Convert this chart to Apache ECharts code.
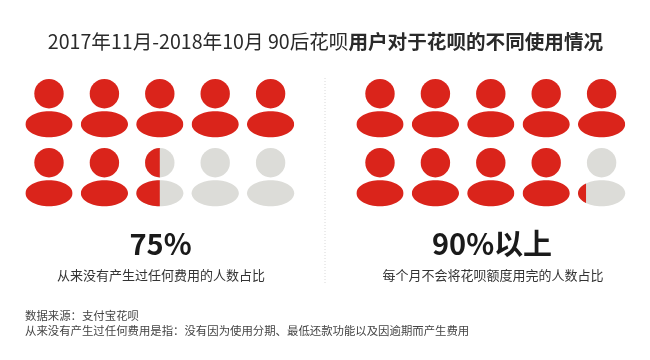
<!DOCTYPE html>
<html><head><meta charset="utf-8">
<style>html,body{margin:0;padding:0;background:#fff}#c{width:650px;height:360px}</style>
<script src="https://cdn.jsdelivr.net/npm/echarts@6/dist/echarts.min.js"></script>
</head><body><div id="c"></div>
<script>
const titleRegular = '2017年11月-2018年10月 90后花呗';
const titleBold = '用户对于花呗的不同使用情况';
const leftShares = [1,1,1,1,1,1,1,0.5,0,0];
const rightShares = [1,1,1,1,1,1,1,1,1,0.17];
const leftValue = '75%';
const rightValue = '90%以上';
const leftCaption = '从来没有产生过任何费用的人数占比';
const rightCaption = '每个月不会将花呗额度用完的人数占比';
const sourceNote = '数据来源：支付宝花呗';
const definitionNote = '从来没有产生过任何费用是指：没有因为使用分期、最低还款功能以及因逾期而产生费用';

const RED = '#DA241B', GREY = '#DCDCD8';
const FONT = '"Noto Sans CJK SC","Noto Sans",sans-serif';
const COLS = 5;
const toCells = shares => shares.map((s,i)=>[i%COLS, Math.floor(i/COLS), s]);

function renderPerson(params, api){
  const c = api.coord([api.value(0), api.value(1)]);
  const share = api.value(2);
  const headR = 14.7, bodyRx = 23.6, bodyRy = 13, bodyDy = 30.6;
  const shapes = color => [
    {type:'circle', shape:{cx:c[0], cy:c[1], r:headR}, style:{fill:color}},
    {type:'ellipse', shape:{cx:c[0], cy:c[1]+bodyDy, rx:bodyRx, ry:bodyRy}, style:{fill:color}}
  ];
  const x0 = c[0]-bodyRx, w = bodyRx*2;
  const children = [];
  if (share < 1) children.push({type:'group', children:shapes(GREY)});
  if (share > 0) children.push({type:'group', children:shapes(RED),
    clipPath:{type:'rect', shape:{x:x0, y:c[1]-headR-1, width:w*share, height:headR+bodyDy+bodyRy+2}}});
  return {type:'group', children};
}
const personSeries = (data, idx) => ({
  type:'custom', coordinateSystem:'cartesian2d', xAxisIndex:idx, yAxisIndex:idx,
  data, renderItem:renderPerson, clip:false, silent:true, animation:false,
  encode:{x:0,y:1}
});
const xAxis = g => ({type:'value', gridIndex:g, min:0, max:COLS-1, show:false});
const yAxis = g => ({type:'value', gridIndex:g, min:0, max:1, inverse:true, show:false});

const chart = echarts.init(document.getElementById('c'), null, {renderer:'canvas'});
chart.setOption({
  animation:false,
  backgroundColor:'#fff',
  title:[
    {text:'{r|'+titleRegular+'}{b|'+titleBold+'}', left:320.5, top:27, textAlign:'center',
      textStyle:{rich:{
        r:{fontFamily:FONT, fontSize:19.6, fontWeight:400, color:'#2a2a2a'},
        b:{fontFamily:FONT, fontSize:19.6, fontWeight:700, color:'#2a2a2a'}}}},
    {text:leftValue, left:155.5, top:224, textAlign:'center',
      textStyle:{fontFamily:FONT, fontSize:29, fontWeight:700, color:'#1a1a1a'}},
    {text:rightValue, left:487, top:224, textAlign:'center',
      textStyle:{fontFamily:FONT, fontSize:29, fontWeight:700, color:'#1a1a1a'}},
    {text:leftCaption, left:156, top:264, textAlign:'center',
      textStyle:{fontFamily:FONT, fontSize:13, fontWeight:400, color:'#333'}},
    {text:rightCaption, left:488, top:264, textAlign:'center',
      textStyle:{fontFamily:FONT, fontSize:13, fontWeight:400, color:'#333'}},
    {text:sourceNote, left:20, top:305, textStyle:{fontFamily:FONT, fontSize:11.4, fontWeight:400, color:'#444'}},
    {text:definitionNote, left:20, top:319.5, textStyle:{fontFamily:FONT, fontSize:11.4, fontWeight:400, color:'#444'}}
  ],
  grid:[
    {left:49, width:221.6, top:93.7, height:69, containLabel:false},
    {left:380, width:221.6, top:93.7, height:69, containLabel:false}
  ],
  xAxis:[xAxis(0),xAxis(1)],
  yAxis:[yAxis(0),yAxis(1)],
  series:[personSeries(toCells(leftShares),0), personSeries(toCells(rightShares),1)],
  graphic:[{type:'line', silent:true, shape:{x1:325,y1:78,x2:325,y2:284},
    style:{stroke:'#d8d8d8', lineWidth:1, lineDash:[1,2]}}]
});
</script></body></html>
